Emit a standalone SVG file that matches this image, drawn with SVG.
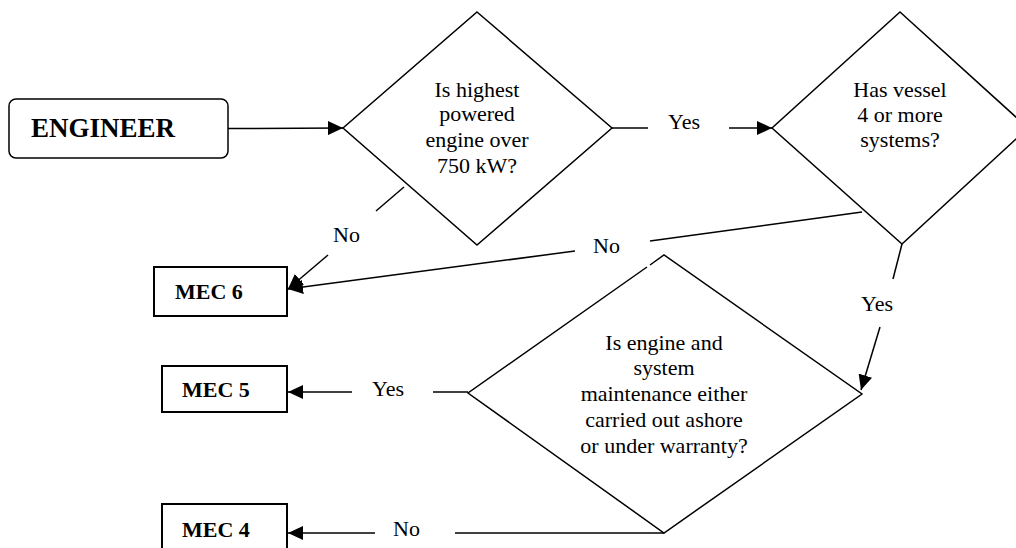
<svg xmlns="http://www.w3.org/2000/svg" width="1016" height="548" viewBox="0 0 1016 548">
<style>
.ln{fill:none;stroke:#000;stroke-width:1.5}
.shape{fill:#fff;stroke:#000;stroke-width:1.5}
.box{fill:#fff;stroke:#000;stroke-width:2}
.t{font-size:22px;text-anchor:middle}
.lbl{font-size:22px}
.b{font-weight:bold}
</style>
<defs>
<marker id="ah" markerUnits="userSpaceOnUse" markerWidth="16" markerHeight="14" refX="15" refY="7" orient="auto">
<path d="M0,0 L15,7 L0,14 z" fill="#000"/>
</marker>
</defs>
<rect width="1016" height="548" fill="#fff"/>
<g font-family="Liberation Serif, Times New Roman, serif" fill="#000">
<g id="engineer">
<rect class="shape" x="9" y="99" width="219" height="59" rx="7"/>
<text class="b" x="31" y="137" font-size="27">ENGINEER</text>
</g>
<g id="q1">
<polygon class="shape" points="477,12 612,128 477,245 343,128"/>
<text class="t" x="477" y="97">Is highest</text>
<text class="t" x="477" y="121">powered</text>
<text class="t" x="477" y="147">engine over</text>
<text class="t" x="477" y="173">750 kW?</text>
</g>
<g id="q2">
<polygon class="shape" points="900,12 1028,128 902,244 772,128"/>
<text class="t" x="900" y="97">Has vessel</text>
<text class="t" x="900" y="122">4 or more</text>
<text class="t" x="900" y="147">systems?</text>
</g>
<g id="q3">
<path class="ln" d="M650,265 L664,255 L862,394 L664,533 L468,393 L647,267"/>
<text class="t" x="664" y="350">Is engine and</text>
<text class="t" x="664" y="375">system</text>
<text class="t" x="664" y="401">maintenance either</text>
<text class="t" x="664" y="427">carried out ashore</text>
<text class="t" x="664" y="453">or under warranty?</text>
</g>
<g id="mec6">
<rect class="box" x="154" y="267" width="133" height="49"/>
<text class="b" x="175" y="299" font-size="22">MEC 6</text>
</g>
<g id="mec5">
<rect class="box" x="162" y="366" width="125" height="46"/>
<text class="b" x="182" y="397" font-size="22">MEC 5</text>
</g>
<g id="mec4">
<rect class="box" x="162" y="504" width="125" height="50"/>
<text class="b" x="182" y="537" font-size="22">MEC 4</text>
</g>
<g id="connectors">
<line class="ln" x1="228" y1="128.5" x2="343" y2="128" marker-end="url(#ah)"/>
<line class="ln" x1="612" y1="128" x2="648" y2="128"/>
<line class="ln" x1="729" y1="128" x2="772" y2="128" marker-end="url(#ah)"/>
<text class="lbl" x="668" y="129">Yes</text>
<line class="ln" x1="404" y1="187" x2="376" y2="211"/>
<text class="lbl" x="333" y="242">No</text>
<line class="ln" x1="328" y1="255" x2="288" y2="289" marker-end="url(#ah)"/>
<line class="ln" x1="862" y1="212" x2="650" y2="241"/>
<text class="lbl" x="593" y="253">No</text>
<line class="ln" x1="575" y1="251" x2="288" y2="289" marker-end="url(#ah)"/>
<line class="ln" x1="902" y1="244" x2="893" y2="279"/>
<text class="lbl" x="861" y="311">Yes</text>
<line class="ln" x1="880" y1="327" x2="861" y2="390" marker-end="url(#ah)"/>
<line class="ln" x1="468" y1="392" x2="433" y2="392"/>
<text class="lbl" x="372" y="396">Yes</text>
<line class="ln" x1="352" y1="392" x2="288" y2="392" marker-end="url(#ah)"/>
<line class="ln" x1="664" y1="533" x2="455" y2="533"/>
<text class="lbl" x="393" y="536">No</text>
<line class="ln" x1="375" y1="533" x2="288" y2="533" marker-end="url(#ah)"/>
</g>
</g>
</svg>
